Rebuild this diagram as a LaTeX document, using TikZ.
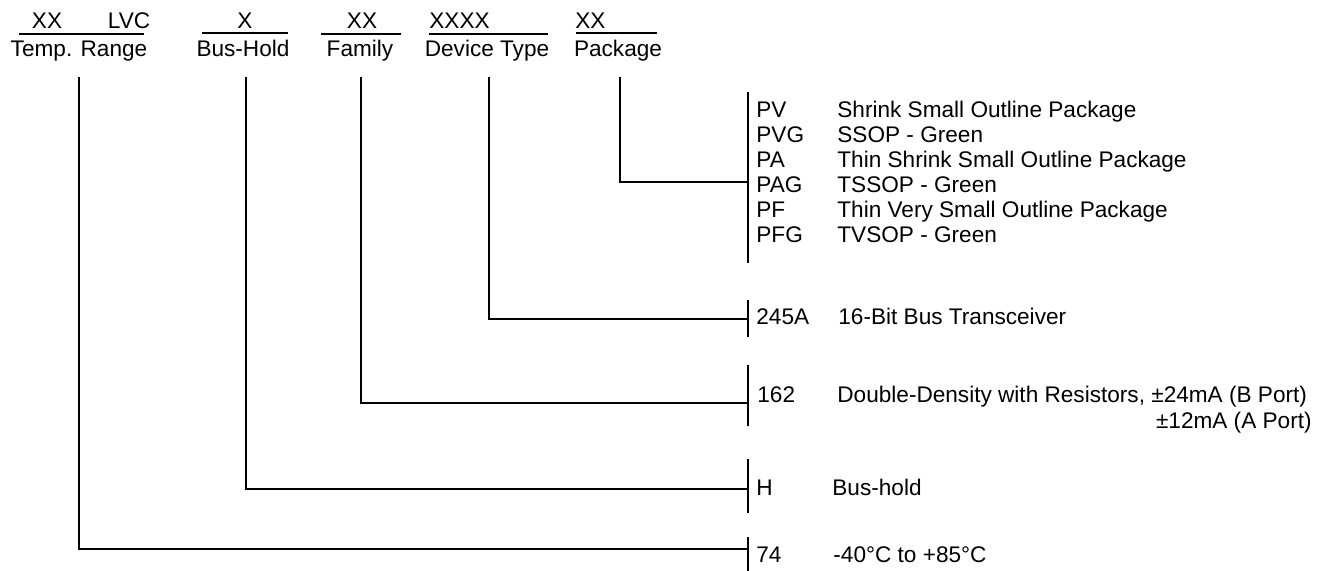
\documentclass[tikz,border=0pt]{standalone}
\usepackage{fontspec}
\setmainfont{Liberation Sans}
\begin{document}
\begin{tikzpicture}[x=0.5pt,y=-0.5pt,
  txt/.style={inner sep=0pt,font=\fontsize{11.3}{13}\selectfont},
  ln/.style={line width=0.55pt},
  thk/.style={line width=1pt}]
\useasboundingbox (0,0) rectangle (1327,571);
% top row
\node[txt,anchor=base] (xx1) at (47,29) {XX};
\node[txt,anchor=base] (lvc) at (129,29) {LVC};
\node[txt,anchor=base] (x2) at (245,29) {X};
\node[txt,anchor=base] (xx3) at (362,29) {XX};
\node[txt,anchor=base west] (xxxx) at (429,29) {XXXX};
\node[txt,anchor=base west] (xx5) at (575,29) {XX};
\draw[ln] (19,34) -- (144,34);
\draw[ln] (202,33) -- (288,33);
\draw[ln] (321,34) -- (401,34);
\draw[ln] (429,34) -- (548,34);
\draw[ln] (576,33) -- (657,33);
% labels
\node[txt,anchor=base] (temp) at (79,57) {Temp. Range};
\node[txt,anchor=base] (bush) at (243,57) {Bus-Hold};
\node[txt,anchor=base] (fam) at (360,57) {Family};
\node[txt,anchor=base] (dev) at (487,57) {Device Type};
\node[txt,anchor=base] (pkg) at (618,57) {Package};
\coordinate (t0) at (79,77);
\coordinate (h0) at (246,77);
\coordinate (f0) at (361,77);
\coordinate (d0) at (489,77);
\coordinate (p0) at (620,77);
% bars
\draw[thk] (748,92) -- (748,263);
\draw[ln] (748,300) -- (748,337);
\draw[ln] (748,365) -- (748,426);
\draw[ln] (748,459) -- (748,513);
\draw[ln] (748,537) -- (748,571);
\coordinate (bp) at (748,182);
\coordinate (bd) at (748,319);
\coordinate (bf) at (748,403);
\coordinate (bh) at (748,489);
\coordinate (bt) at (748,549);
% connectors
\draw[ln] (p0) |- (bp);
\draw[thk] (d0) |- (bd);
\draw[ln] (f0) |- (bf);
\draw[ln] (h0) |- (bh);
\draw[ln] (t0) |- (bt);
% package list
\node[txt,anchor=base west] (pv) at (756,118) {PV};
\node[txt,anchor=base west] (pvd) at (837,118) {Shrink Small Outline Package};
\node[txt,anchor=base west] (pvg) at (756,143) {PVG};
\node[txt,anchor=base west] (pvgd) at (837,143) {SSOP - Green};
\node[txt,anchor=base west] (pa) at (756,168) {PA};
\node[txt,anchor=base west] (pad) at (837,168) {Thin Shrink Small Outline Package};
\node[txt,anchor=base west] (pag) at (756,193) {PAG};
\node[txt,anchor=base west] (pagd) at (837,193) {TSSOP - Green};
\node[txt,anchor=base west] (pf) at (756,218) {PF};
\node[txt,anchor=base west] (pfd) at (837,218) {Thin Very Small Outline Package};
\node[txt,anchor=base west] (pfg) at (756,243) {PFG};
\node[txt,anchor=base west] (pfgd) at (837,243) {TVSOP - Green};
% other codes
\node[txt,anchor=base west] (c245) at (756,325) {245A};
\node[txt,anchor=base west] (c245d) at (838,325) {16-Bit Bus Transceiver};
\node[txt,anchor=base west] (c162) at (757,402) {162};
\node[txt,anchor=base west] (c162d) at (837,402) {Double-Density with Resistors, ±24mA (B Port)};
\node[txt,anchor=base east] (c162e) at (1312,429) {±12mA (A Port)};
\node[txt,anchor=base west] (ch) at (756,495) {H};
\node[txt,anchor=base west] (chd) at (832,495) {Bus-hold};
\node[txt,anchor=base west] (c74) at (756,562) {74};
\node[txt,anchor=base west] (c74d) at (833,562) {-40°C to +85°C};
\end{tikzpicture}
\end{document}
